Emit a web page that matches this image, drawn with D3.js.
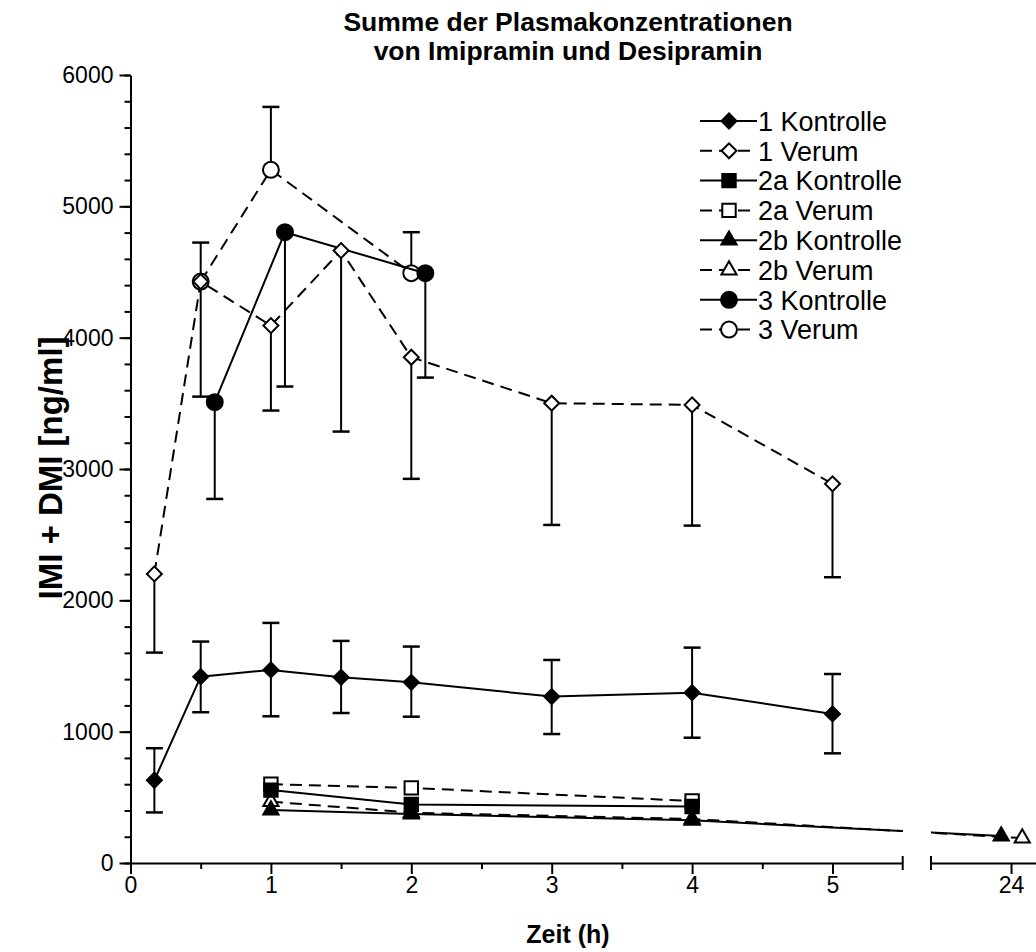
<!DOCTYPE html>
<html>
<head>
<meta charset="utf-8">
<script src="https://cdn.jsdelivr.net/npm/d3@7"></script>
<style>
  body { margin: 0; background: #fff; }
  svg { font-family: Arial, "Liberation Sans", sans-serif; }
</style>
</head>
<body>
<div id="chart"></div>
<script>
// Daten, Zeit in h, Werte in ng/ml
const zeit1 = [0.17, 0.5, 1, 1.5, 2, 3, 4, 5];
const kontrolle1 = [630, 1419, 1470, 1414, 1376, 1267, 1297, 1135];
const kontrolle1Min = [385, 1148, 1117, 1142, 1114, 982, 954, 835];
const kontrolle1Max = [874, 1686, 1828, 1691, 1648, 1546, 1640, 1439];
const verum1 = [2201, 4427, 4092, 4663, 3851, 3501, 3488, 2887];
const verum1Min = [1602, 3551, 3445, 3285, 2925, 2574, 2569, 2176];

const zeit2a = [1, 2, 4];
const kontrolle2a = [555, 445, 430];
const verum2a = [600, 572, 472];

const zeit2bKontrolle = [1, 2, 4, 23.93];
const kontrolle2b = [403, 373, 325, 205];
const zeit2bVerum = [1, 2, 4, 24.08];
const verum2b = [467, 383, 335, 190];

const zeit3Kontrolle = [0.6, 1.1, 2.1];
const kontrolle3 = [3509, 4803, 4491];
const kontrolle3Min = [2772, 3628, 3696];
const zeit3Verum = [0.5, 1, 2];
const verum3 = [4427, 5278, 4491];
const verum3Max = [4724, 5757, 4803];

const yTicks = [0, 1000, 2000, 3000, 4000, 5000, 6000];
const xTicksA = [0, 1, 2, 3, 4, 5];
const xTicksB = [24];

// Serien zusammenbauen
function serie(name, t, v, lo, hi, sym, filled, dashed) {
  return {
    name, sym, filled, dashed,
    points: t.map((d, i) => ({ t: d, v: v[i], lo: lo ? lo[i] : null, hi: hi ? hi[i] : null }))
  };
}

const serien = [
  serie("1 Kontrolle", zeit1, kontrolle1, kontrolle1Min, kontrolle1Max, "diamond", true, false),
  serie("1 Verum", zeit1, verum1, verum1Min, null, "diamond", false, true),
  serie("2a Kontrolle", zeit2a, kontrolle2a, null, null, "square", true, false),
  serie("2a Verum", zeit2a, verum2a, null, null, "square", false, true),
  serie("2b Kontrolle", zeit2bKontrolle, kontrolle2b, null, null, "triangle", true, false),
  serie("2b Verum", zeit2bVerum, verum2b, null, null, "triangle", false, true),
  serie("3 Kontrolle", zeit3Kontrolle, kontrolle3, kontrolle3Min, null, "circle", true, false),
  serie("3 Verum", zeit3Verum, verum3, null, verum3Max, "circle", false, true)
];

const width = 1036, height = 952;
const dash = "12,7";

const svg = d3.select("#chart").append("svg")
  .attr("width", width)
  .attr("height", height);

// Skalen (x mit Achsenbruch)
const xA = d3.scaleLinear().domain([0, 5.5]).range([130.5, 902.7]);
const xB = d3.scaleLinear().domain([23.43, 24.18]).range([931, 1036.3]);
const xPos = t => t <= 5.5 ? xA(t) : xB(t);
const y = d3.scaleLinear().domain([0, 6000]).range([863, 75]);

// Symbole
const symbolPath = {
  diamond: d3.symbol(d3.symbolSquare, 112)(),
  square: d3.symbol(d3.symbolSquare, 180)(),
  triangle: d3.symbol(d3.symbolTriangle, 100)(),
  circle: d3.symbol(d3.symbolCircle, 200)()
};
function drawMarker(sel, s) {
  sel.append("path")
    .attr("d", symbolPath[s.sym])
    .attr("transform", d => `translate(${d.x},${d.y})` + (s.sym === "diamond" ? " rotate(45)" : ""))
    .attr("fill", s.filled ? "#000" : "#fff")
    .attr("stroke", "#000")
    .attr("stroke-width", 2);
}

// Achsen
const axisStyle = g => {
  g.selectAll(".domain").attr("stroke-width", 2);
  g.selectAll(".tick line").attr("stroke-width", 2);
  g.selectAll(".tick text").style("font-size", "23px").attr("fill", "#000");
};
const fmt = d3.format("d");

svg.append("g")
  .attr("transform", `translate(${xA(0)},0)`)
  .call(d3.axisLeft(y).tickValues(d3.range(0, 6001, 200)).tickSize(6).tickFormat(""))
  .call(g => g.select(".domain").remove())
  .call(axisStyle);
svg.append("g")
  .attr("transform", `translate(${xA(0)},0)`)
  .call(d3.axisLeft(y).tickValues(yTicks).tickSize(11).tickSizeOuter(0).tickPadding(6).tickFormat(fmt))
  .call(axisStyle);

svg.append("g")
  .attr("transform", `translate(0,${y(0)})`)
  .call(d3.axisBottom(xA).tickValues(d3.range(0.5, 5.5, 1)).tickSize(6).tickFormat(""))
  .call(g => g.select(".domain").remove())
  .call(axisStyle);
svg.append("g")
  .attr("transform", `translate(0,${y(0)})`)
  .call(d3.axisBottom(xA).tickValues(xTicksA).tickSize(11).tickSizeOuter(0).tickPadding(3).tickFormat(fmt))
  .call(axisStyle);
svg.append("g")
  .attr("transform", `translate(0,${y(0)})`)
  .call(d3.axisBottom(xB).tickValues(xTicksB).tickSize(11).tickSizeOuter(0).tickPadding(3).tickFormat(fmt))
  .call(axisStyle);

// Bruchmarken
[xA.range()[1], xB.range()[0]].forEach(px => {
  svg.append("line")
    .attr("x1", px).attr("x2", px)
    .attr("y1", y(0) - 7).attr("y2", y(0) + 7)
    .attr("stroke", "#000").attr("stroke-width", 2);
});

// Clip für Linien (Lücke im Bruch)
const clip = svg.append("clipPath").attr("id", "bruch");
clip.append("rect").attr("x", 0).attr("y", 0).attr("width", xA.range()[1]).attr("height", height);
clip.append("rect").attr("x", xB.range()[0]).attr("y", 0).attr("width", width).attr("height", height);

const line = d3.line().x(d => xPos(d.t)).y(d => y(d.v));
const plot = svg.append("g");

// in umgekehrter Reihenfolge zeichnen (Serie 1 oben)
serien.slice().reverse().forEach(s => {
  const g = plot.append("g");
  g.append("path")
    .datum(s.points)
    .attr("clip-path", "url(#bruch)")
    .attr("d", line)
    .attr("fill", "none")
    .attr("stroke", "#000")
    .attr("stroke-width", 2)
    .attr("stroke-dasharray", s.dashed ? dash : null);

  s.points.forEach(p => {
    [p.lo, p.hi].forEach(e => {
      if (e === null) return;
      const px = xPos(p.t);
      g.append("line")
        .attr("x1", px).attr("x2", px)
        .attr("y1", y(p.v)).attr("y2", y(e))
        .attr("stroke", "#000").attr("stroke-width", 2);
      g.append("line")
        .attr("x1", px - 8.5).attr("x2", px + 8.5)
        .attr("y1", y(e)).attr("y2", y(e))
        .attr("stroke", "#000").attr("stroke-width", 2.5);
    });
  });

  g.selectAll(null)
    .data(s.points.map(p => ({ x: xPos(p.t), y: y(p.v) })))
    .enter()
    .call(sel => drawMarker(sel, s));
});

// Legende
const legend = svg.append("g").attr("transform", "translate(700,121)");
serien.forEach((s, i) => {
  const row = legend.append("g").attr("transform", `translate(0,${i * 29.8})`);
  row.append("line")
    .attr("x1", 0).attr("x2", 57)
    .attr("stroke", "#000").attr("stroke-width", 2)
    .attr("stroke-dasharray", s.dashed ? dash : null);
  row.selectAll(null).data([{ x: 29, y: 0 }]).enter().call(sel => drawMarker(sel, s));
  row.append("text")
    .attr("x", 58)
    .attr("dy", "0.36em")
    .style("font-size", "27px")
    .text(s.name);
});

// Titel und Achsentitel
const title = svg.append("text")
  .attr("text-anchor", "middle")
  .style("font-size", "26.5px")
  .style("font-weight", "bold");
title.append("tspan").attr("x", 568).attr("y", 31).text("Summe der Plasmakonzentrationen");
title.append("tspan").attr("x", 568).attr("y", 60).text("von Imipramin und Desipramin");

svg.append("text")
  .attr("x", 568)
  .attr("y", 943)
  .attr("text-anchor", "middle")
  .style("font-size", "25px")
  .style("font-weight", "bold")
  .text("Zeit (h)");

svg.append("text")
  .attr("transform", "translate(62,468) rotate(-90)")
  .attr("text-anchor", "middle")
  .style("font-size", "33px")
  .style("font-weight", "bold")
  .text("IMI + DMI [ng/ml]");
</script>
</body>
</html>
